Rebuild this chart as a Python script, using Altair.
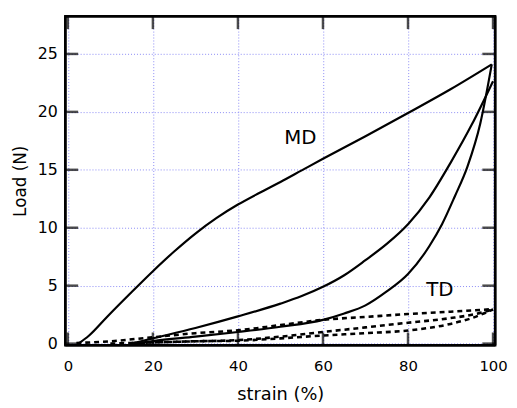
import altair as alt
import pandas as pd

# ---- data ----
md_load_x = [2.5, 5, 9.2, 14.6, 20, 25, 30, 35, 40, 45, 50, 55, 60, 70, 80, 90, 99.7]
md_load_y = [0.0, 0.7, 2.3, 4.3, 6.25, 7.95, 9.5, 10.85, 12.0, 13.0, 13.95, 14.95, 15.95, 17.9, 19.9, 21.95, 24.1]

md_reload_x = [15, 20, 30, 40, 50, 55, 60, 65, 70, 75, 80, 85, 90, 95, 100]
md_reload_y = [0.0, 0.45, 1.35, 2.35, 3.45, 4.1, 4.9, 5.9, 7.2, 8.6, 10.3, 12.6, 15.6, 18.9, 22.65]

md_unload_x = [16, 20, 30, 40, 50, 60, 65, 70, 75, 80, 85, 88, 91, 94, 97, 99.7]
md_unload_y = [0.0, 0.22, 0.6, 1.0, 1.45, 2.05, 2.6, 3.3, 4.5, 6.0, 8.4, 10.3, 12.7, 15.3, 19.0, 24.1]

td1_x = [2, 10, 20, 30, 40, 50, 60, 70, 80, 90, 100]
td1_y = [0.05, 0.2, 0.55, 0.9, 1.15, 1.6, 2.05, 2.3, 2.55, 2.75, 2.98]

td2_x = [15, 20, 30, 40, 50, 60, 70, 80, 90, 96, 100]
td2_y = [0.05, 0.1, 0.2, 0.3, 0.6, 1.0, 1.4, 1.8, 2.2, 2.56, 2.95]

td3_x = [10, 20, 30, 40, 50, 60, 70, 80, 90, 95, 100]
td3_y = [0.0, 0.1, 0.2, 0.25, 0.45, 0.7, 0.9, 1.13, 1.7, 2.2, 2.95]

x_ticks = [0, 20, 40, 60, 80, 100]
y_ticks = [0, 5, 10, 15, 20, 25]

labels = ["MD", "TD"]
label_x = [54.7, 87.5]
label_y = [17.7, 4.6]

# ---- tables ----
def curve(name, xs, ys):
    return pd.DataFrame({"curve": name, "i": range(len(xs)), "strain": xs, "load": ys})

md = pd.concat([curve("md_load", md_load_x, md_load_y),
                curve("md_reload", md_reload_x, md_reload_y),
                curve("md_unload", md_unload_x, md_unload_y)])
td = pd.concat([curve("td1", td1_x, td1_y),
                curve("td2", td2_x, td2_y),
                curve("td3", td3_x, td3_y)])
lab = pd.DataFrame({"t": labels, "strain": label_x, "load": label_y})
xt = pd.DataFrame({"v": x_ticks})
yt = pd.DataFrame({"v": y_ticks})

W, H = 435, 333
FONT = "DejaVu Sans"

xscale = alt.Scale(domain=[-0.6, 100.5], nice=False, zero=False)
yscale = alt.Scale(domain=[-0.15, 28.25], nice=False, zero=False)

xaxis = alt.Axis(values=x_ticks, grid=True, gridColor="#8a8af5", gridDash=[1, 2], gridWidth=1,
                 domain=False, ticks=False, labelPadding=13, labelFontSize=15, labelFont=FONT,
                 labelColor="black", title="strain (%)", titleFontSize=18, titleFont=FONT,
                 titleFontWeight="normal", titleColor="black", titlePadding=13)
yaxis = alt.Axis(values=y_ticks, grid=True, gridColor="#8a8af5", gridDash=[1, 2], gridWidth=1,
                 domain=False, ticks=False, labelPadding=8, labelFontSize=16, labelFont=FONT,
                 labelColor="black", title="Load (N)", titleFontSize=17, titleFont=FONT,
                 titleFontWeight="normal", titleColor="black", titlePadding=8)

base_md = alt.Chart(md).mark_line(color="black", strokeWidth=2.2, interpolate="monotone").encode(
    x=alt.X("strain:Q", scale=xscale, axis=xaxis),
    y=alt.Y("load:Q", scale=yscale, axis=yaxis),
    detail="curve:N",
    order="i:Q",
)
td_lines = alt.Chart(td).mark_line(color="black", strokeWidth=2.6, strokeDash=[5, 4],
                                   interpolate="monotone").encode(
    x=alt.X("strain:Q", scale=xscale),
    y=alt.Y("load:Q", scale=yscale),
    detail="curve:N",
    order="i:Q",
)
texts = alt.Chart(lab).mark_text(fontSize=20, font=FONT, color="black").encode(
    x=alt.X("strain:Q", scale=xscale),
    y=alt.Y("load:Q", scale=yscale),
    text="t:N",
)

TL = 13
tick_style = dict(color="black", thickness=2.5, size=TL)
xb = alt.Chart(xt).mark_tick(orient="vertical", **tick_style).encode(
    x=alt.X("v:Q", scale=xscale), y=alt.value(H - TL / 2))
xtop = alt.Chart(xt).mark_tick(orient="vertical", **tick_style).encode(
    x=alt.X("v:Q", scale=xscale), y=alt.value(TL / 2))
yl = alt.Chart(yt).mark_tick(orient="horizontal", **tick_style).encode(
    y=alt.Y("v:Q", scale=yscale), x=alt.value(TL / 2))
yr = alt.Chart(yt).mark_tick(orient="horizontal", **tick_style).encode(
    y=alt.Y("v:Q", scale=yscale), x=alt.value(W - TL / 2))

# plot frame drawn as four rules
fr = alt.Chart(xt.head(1))
frame_top = fr.mark_rule(color="black", strokeWidth=2.5).encode(
    x=alt.value(0), x2=alt.value(W), y=alt.value(0))
frame_bot = fr.mark_rule(color="black", strokeWidth=2.5).encode(
    x=alt.value(0), x2=alt.value(W), y=alt.value(H))
frame_l = fr.mark_rule(color="black", strokeWidth=2.5).encode(
    y=alt.value(0), y2=alt.value(H), x=alt.value(0))
frame_r = fr.mark_rule(color="black", strokeWidth=2.5).encode(
    y=alt.value(0), y2=alt.value(H), x=alt.value(W))

chart = alt.layer(base_md, td_lines, texts, xb, xtop, yl, yr,
                  frame_top, frame_bot, frame_l, frame_r).properties(
    width=W, height=H,
    background="white",
    autosize=alt.AutoSizeParams(type="none"),
    padding={"left": 58, "top": 6, "right": 14, "bottom": 58},
).configure_view(stroke="black", strokeWidth=2.5)

chart.save("out.html", embed_options={"renderer": "svg", "actions": False})
